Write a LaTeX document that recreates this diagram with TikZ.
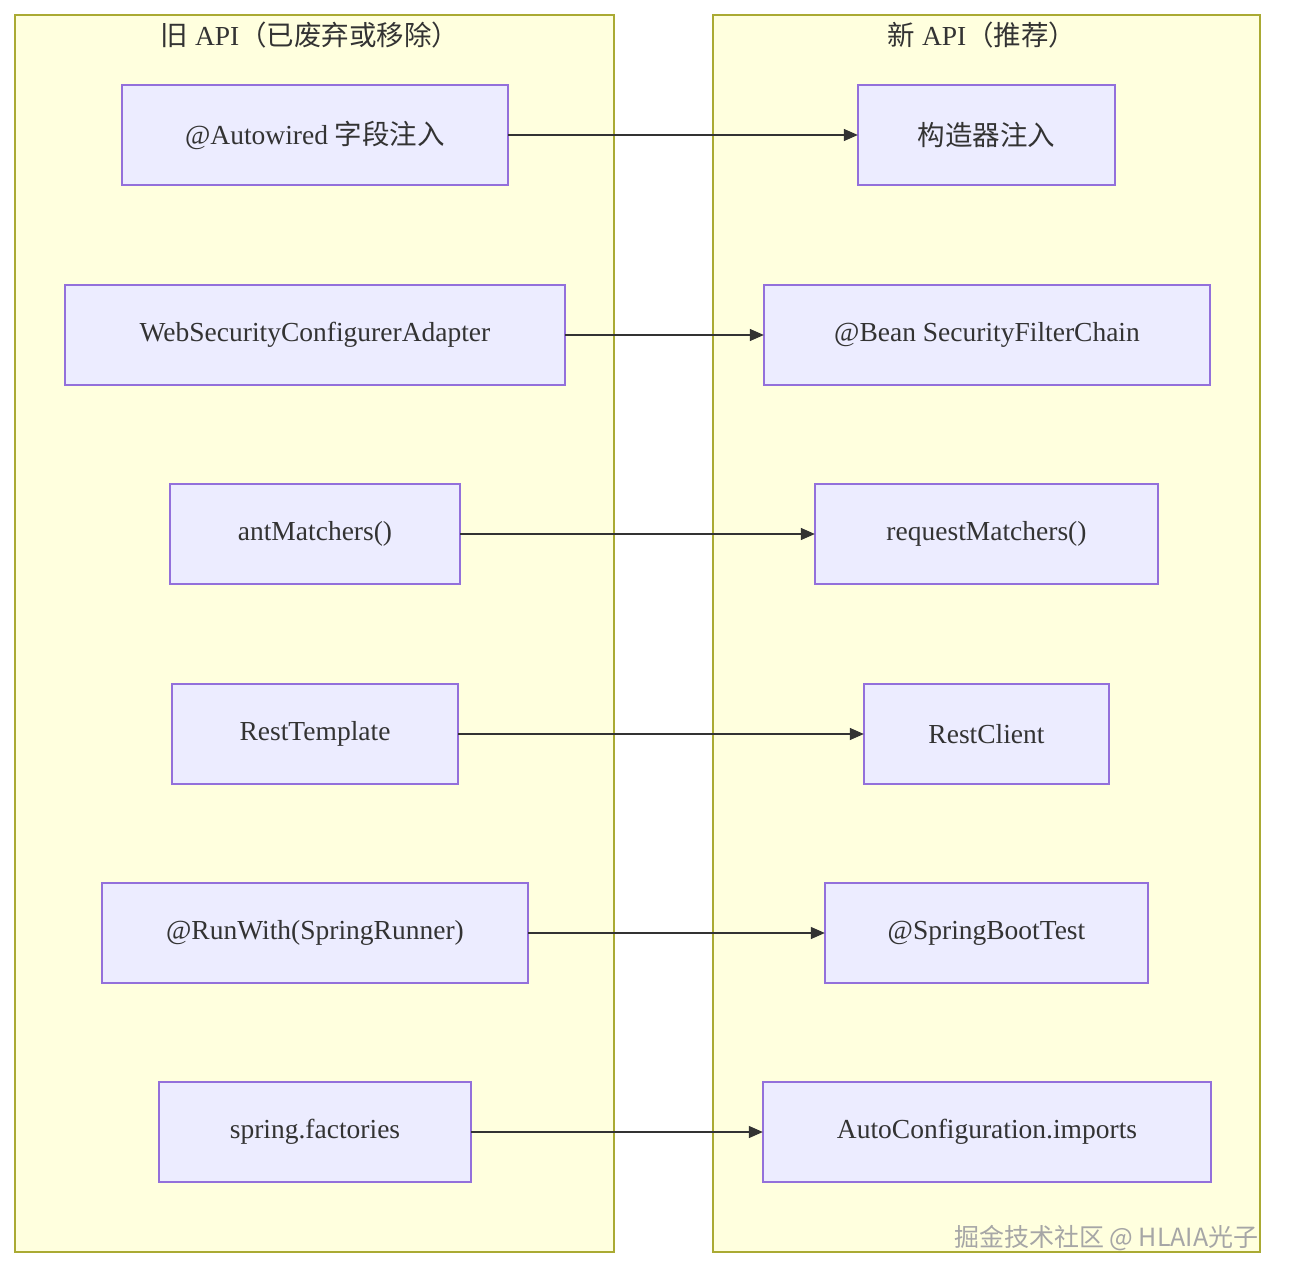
\documentclass[tikz,border=0pt]{standalone}
\usepackage{fontspec}
\setmainfont{Liberation Serif}
\newfontfamily\cjk{Noto Sans CJK SC}
\usetikzlibrary{arrows.meta}
\definecolor{grpfill}{HTML}{FFFFDE}
\definecolor{grpline}{HTML}{AAAA33}
\definecolor{nfill}{HTML}{ECECFF}
\definecolor{nline}{HTML}{9370DB}
\definecolor{arr}{HTML}{333333}
\begin{document}
\begin{tikzpicture}[x=1pt,y=-1pt,
  grp/.style={draw=grpline,fill=grpfill,line width=1.2pt},
  box/.style={draw=nline,fill=nfill,line width=1.3pt},
  lbl/.style={font=\fontsize{27.5}{32}\selectfont,text=arr},
  con/.style={draw=arr,line width=1.3pt,-{Triangle[length=14pt,width=12pt]}}]
\useasboundingbox (0,0) rectangle (1292,1284);
\fill[white] (0,0) rectangle (1292,1284);
\draw[grp] (15,15) rectangle (614,1252);
\draw[grp] (713,15) rectangle (1260,1252);
\node[lbl] (tl) at (310,35) {{\cjk 旧} API{\cjk（已废弃或移除）}};
\node[lbl] (tr) at (982,35) {{\cjk 新} API{\cjk（推荐）}};
\foreach \n/\a/\b/\y/\t in {
 l1/122/508/85/{@Autowired {\cjk 字段注入}},
 l2/65/565/285/WebSecurityConfigurerAdapter,
 l3/170/460/484/antMatchers(),
 l4/172/458/684/RestTemplate,
 l5/102/528/883/@RunWith(SpringRunner),
 l6/159/471/1082/spring.factories,
 r1/858/1115/85/{\cjk 构造器注入},
 r2/764/1210/285/@Bean SecurityFilterChain,
 r3/815/1158/484/requestMatchers(),
 r4/864/1109/684/RestClient,
 r5/825/1148/883/@SpringBootTest,
 r6/763/1211/1082/AutoConfiguration.imports}{
 \draw[box] (\a,\y) rectangle (\b,\y+100);
 \node[lbl,minimum width=\b-\a,minimum height=100,inner sep=0] (\n) at ({(\a+\b)/2},\y+50) {\t};
}
\foreach \i in {1,...,6}{\draw[con] (l\i.east) -- (r\i.west);}
\node[font=\cjk\fontsize{25}{30}\selectfont,text=gray!70,anchor=east] (wm) at (1262,1238) {掘金技术社区 @ HLAIA光子};
\end{tikzpicture}
\end{document}
